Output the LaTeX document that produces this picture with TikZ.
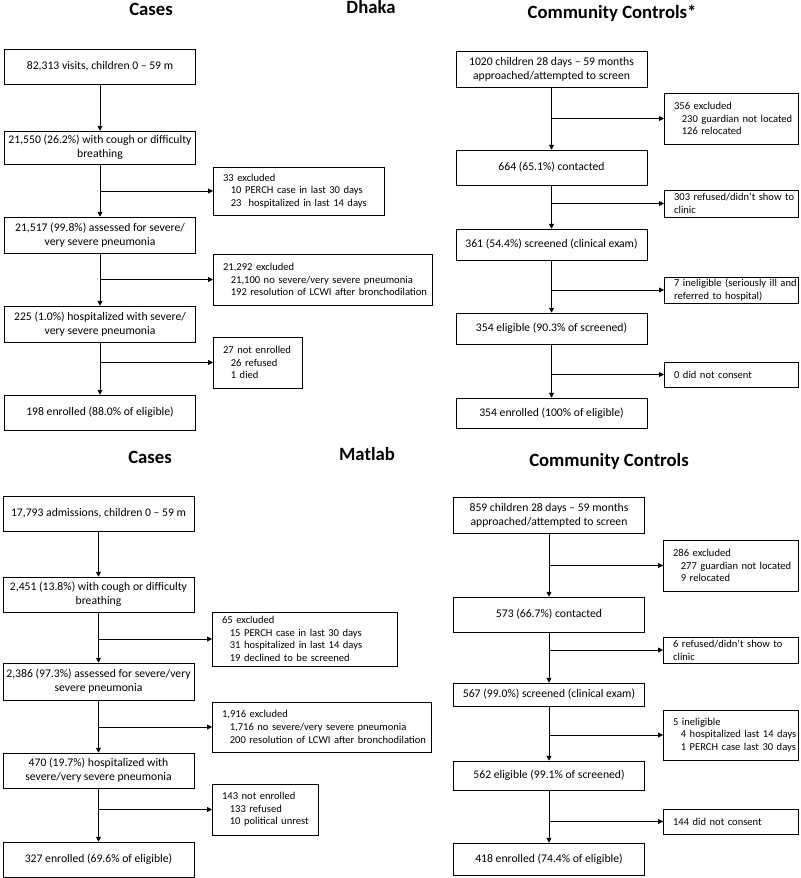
\documentclass[tikz,border=0pt]{standalone}
\usepackage{fontspec}
\setmainfont{Carlito}
\usetikzlibrary{arrows.meta}
\newcommand{\inset}{\hspace*{5.5pt}}
\hyphenpenalty=10000

\begin{document}
\begin{tikzpicture}[x = 0.025cm, y = -0.025cm,
	every node/.style = {font = \fontsize{8.3}{10}\selectfont},
	title/.style = {anchor = base, font = \fontsize{13.3}{15}\selectfont\bfseries},
	main/.style = {draw, align = center, minimum width = 4.78cm, inner sep = 1pt, minimum height = #1*0.025cm},
	main/.default = 35,
	side/.style = {draw, align = left, anchor = west, inner xsep = 1pt, inner ysep = 1pt, text width = #1*0.025cm - 2pt,
		execute at begin node = {\leftskip = 6pt}, font = \fontsize{7.5}{9}\selectfont},
	tall/.style = {minimum height = #1*0.025cm},
	arr/.style = {-{Triangle[length = 3.5pt, width = 3.5pt]}, line width = 0.6pt}]
	\useasboundingbox (0, 0) rectangle (800, 878);

	\node[title] (DAt) at (151, 16) {Cases};
	\node[title] (Dt) at (371, 13.3) {Dhaka};
	\node[title] (DBt) at (612, 18.3) {Community Controls*};
	\node[title] (MAt) at (150, 463.3) {Cases};
	\node[title] (Mt) at (367, 460.7) {Matlab};
	\node[title] (MBt) at (609, 466) {Community Controls};

	\node[main] (DA1) at (100, 66.5) {82,313 visits, children 0 – 59 m};
	\node[main = 33] (DA2) at (100, 147.5) {21,550 (26.2\%) with cough or difficulty\\breathing};
	\node[main = 36] (DA3) at (100, 235) {21,517 (99.8\%) assessed for severe/\\very severe pneumonia};
	\node[main = 36] (DA4) at (100, 324) {225 (1.0\%) hospitalized with severe/\\very severe pneumonia};
	\node[main] (DA5) at (100, 412.5) {198 enrolled (88.0\% of eligible)};
	\node[side = 171, tall = 48] (DAx1) at (213, 191) {33 excluded\\\inset 10 PERCH case in last 30 days\\\inset 23~~hospitalized in last 14 days};
	\node[side = 219, tall = 51] (DAx2) at (213, 279.5) {21,292 excluded\\\inset 21,100 no severe/very severe pneumonia\\\inset 192 resolution of LCWI after bronchodilation};
	\node[side = 89, tall = 51] (DAx3) at (213, 362.5) {27 not enrolled\\\inset 26 refused\\\inset 1 died};

	\node[main = 36] (DB1) at (551.5, 69) {1020 children 28 days – 59 months\\approached/attempted to screen};
	\node[main] (DB2) at (551.5, 167.5) {664 (65.1\%) contacted};
	\node[main = 31] (DB3) at (551.5, 244.5) {361 (54.4\%) screened (clinical exam)};
	\node[main = 31] (DB4) at (551.5, 328.5) {354 eligible (90.3\% of screened)};
	\node[main = 30] (DB5) at (551.5, 413) {354 enrolled (100\% of eligible)};
	\node[side = 134, tall = 51] (DBx1) at (664, 118.5) {356 excluded\\\inset 230 guardian not located\\\inset 126 relocated};
	\node[side = 134, tall = 27] (DBx2) at (664, 203.5) {303 refused/didn’t show to\\clinic};
	\node[side = 134, tall = 26] (DBx3) at (664, 290) {7 ineligible (seriously ill and\\referred to hospital)};
	\node[side = 134, tall = 25] (DBx4) at (664, 374.5) {0 did not consent};

	\node[main] (MA1) at (98.5, 513.5) {17,793 admissions, children 0 – 59 m};
	\node[main] (MA2) at (98.5, 594.5) {2,451 (13.8\%) with cough or difficulty\\breathing};
	\node[main = 37] (MA3) at (98.5, 681.5) {2,386 (97.3\%) assessed for severe/very\\severe pneumonia};
	\node[main] (MA4) at (98.5, 770.5) {470 (19.7\%) hospitalized with\\severe/very severe pneumonia};
	\node[main] (MA5) at (98.5, 859.5) {327 enrolled (69.6\% of eligible)};
	\node[side = 185, tall = 54] (MAx1) at (212, 639) {65 excluded\\\inset 15 PERCH case in last 30 days\\\inset 31 hospitalized in last 14 days\\\inset 19 declined to be screened};
	\node[side = 219, tall = 50] (MAx2) at (212, 727) {1,916 excluded\\\inset 1,716 no severe/very severe pneumonia\\\inset 200 resolution of LCWI after bronchodilation};
	\node[side = 106, tall = 51] (MAx3) at (212, 809.5) {143 not enrolled\\\inset 133 refused\\\inset 10 political unrest};

	\node[main = 36] (MB1) at (549, 515) {859 children 28 days – 59 months\\approached/attempted to screen};
	\node[main] (MB2) at (549, 614.5) {573 (66.7\%) contacted};
	\node[main = 23] (MB3) at (549, 694.5) {567 (99.0\%) screened (clinical exam)};
	\node[main = 29] (MB4) at (549, 775.5) {562 eligible (99.1\% of screened)};
	\node[main = 32] (MB5) at (549, 859) {418 enrolled (74.4\% of eligible)};
	\node[side = 135, tall = 51] (MBx1) at (663, 565.5) {286 excluded\\\inset 277 guardian not located\\\inset 9 relocated};
	\node[side = 135, tall = 26] (MBx2) at (663, 650) {6 refused/didn’t show to\\clinic};
	\node[side = 135, tall = 50] (MBx3) at (663, 735) {5 ineligible\\\inset 4 hospitalized last 14 days\\\inset 1 PERCH case last 30 days};
	\node[side = 135, tall = 25] (MBx4) at (663, 821.5) {144 did not consent};

	\draw[arr] (DA1) -- (DA2);
	\draw[arr] (DA2) -- (DA3);
	\draw[arr] (DA3) -- (DA4);
	\draw[arr] (DA4) -- (DA5);
	\draw[arr] (DA2 |- DAx1.west) -- (DAx1.west);
	\draw[arr] (DA3 |- DAx2.west) -- (DAx2.west);
	\draw[arr] (DA4 |- DAx3.west) -- (DAx3.west);

	\draw[arr] (DB1) -- (DB2);
	\draw[arr] (DB2) -- (DB3);
	\draw[arr] (DB3) -- (DB4);
	\draw[arr] (DB4) -- (DB5);
	\draw[arr] (DB1 |- DBx1.west) -- (DBx1.west);
	\draw[arr] (DB2 |- DBx2.west) -- (DBx2.west);
	\draw[arr] (DB3 |- DBx3.west) -- (DBx3.west);
	\draw[arr] (DB4 |- DBx4.west) -- (DBx4.west);

	\draw[arr] (MA1) -- (MA2);
	\draw[arr] (MA2) -- (MA3);
	\draw[arr] (MA3) -- (MA4);
	\draw[arr] (MA4) -- (MA5);
	\draw[arr] (MA2 |- MAx1.west) -- (MAx1.west);
	\draw[arr] (MA3 |- MAx2.west) -- (MAx2.west);
	\draw[arr] (MA4 |- MAx3.west) -- (MAx3.west);

	\draw[arr] (MB1) -- (MB2);
	\draw[arr] (MB2) -- (MB3);
	\draw[arr] (MB3) -- (MB4);
	\draw[arr] (MB4) -- (MB5);
	\draw[arr] (MB1 |- MBx1.west) -- (MBx1.west);
	\draw[arr] (MB2 |- MBx2.west) -- (MBx2.west);
	\draw[arr] (MB3 |- MBx3.west) -- (MBx3.west);
	\draw[arr] (MB4 |- MBx4.west) -- (MBx4.west);
\end{tikzpicture}
\end{document}
